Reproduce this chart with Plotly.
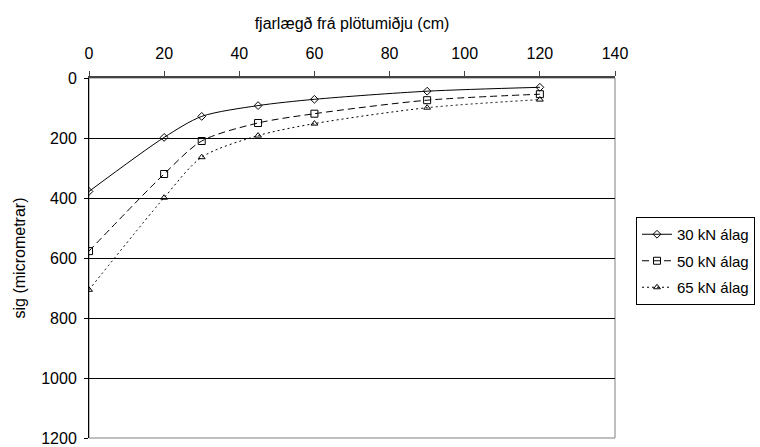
import plotly.graph_objects as go

# distance from plate centre (cm)
distance_cm = [0, 20, 30, 45, 60, 90, 120]

# deflection (micrometres) for each load level
sig_30kN = [378, 198, 128, 92, 71, 44, 31]
sig_50kN = [577, 320, 210, 150, 119, 74, 54]
sig_65kN = [706, 399, 264, 192, 152, 99, 72]

series_names = ["30 kN álag", "50 kN álag", "65 kN álag"]
x_ticks = [0, 20, 40, 60, 80, 100, 120, 140]
y_ticks = [0, 200, 400, 600, 800, 1000, 1200]

styles = [
    dict(dash="solid", symbol="diamond-open", size=6),
    dict(dash="7px,4px", symbol="square-open", size=7),
    dict(dash="2px,3px", symbol="triangle-up-open", size=6),
]

FONT = "Liberation Sans, Arial, sans-serif"

# plot area spans x = 89..615 px of a 760 px wide page; no right margin so
# the legend can sit beside it without shrinking the axes
X0, X1, W = 89, 615, 760
dom_end = (X1 - X0) / (W - X0)

fig = go.Figure()
for i, (name, ys, st) in enumerate(zip(series_names, [sig_30kN, sig_50kN, sig_65kN], styles)):
    fig.add_trace(go.Scatter(
        x=distance_cm, y=ys, name=name, mode="lines+markers", legendgroup=f"g{i}",
        line=dict(color="black", width=1, dash=st["dash"], shape="spline", smoothing=0.8),
        marker=dict(symbol=st["symbol"], size=st["size"], color="black",
                    line=dict(width=1, color="black")),
    ))

# plot-area frame (right and bottom edges)
fig.add_shape(type="rect", xref="x domain", yref="y domain", x0=0, y0=0, x1=1, y1=1,
              line=dict(color="#808080", width=1), layer="below")

fig.update_layout(
    width=W, height=447,
    margin=dict(l=X0, r=0, t=78, b=9, autoexpand=False),
    paper_bgcolor="white", plot_bgcolor="white",
    font=dict(family=FONT, size=16, color="black"),
    showlegend=True,
    legend=dict(
        x=(636 - X0) / (W - X0), y=(438 - 217) / 360, xanchor="left", yanchor="top",
        bordercolor="black", borderwidth=1, bgcolor="white",
        font=dict(family=FONT, size=15, color="black"),
        tracegroupgap=4, itemwidth=30,
    ),
    xaxis=dict(
        domain=[0, dom_end],
        side="top", range=[0, 140], tickvals=x_ticks,
        showgrid=False, zeroline=False, automargin=False,
        showline=True, linecolor="#444", linewidth=2,
        ticks="outside", ticklen=5, tickcolor="#444",
        tickfont=dict(family=FONT, size=16), ticklabelstandoff=6,
        title=dict(text="fjarlægð frá plötumiðju (cm)", standoff=11,
                   font=dict(family=FONT, size=16)),
        fixedrange=True,
    ),
    yaxis=dict(
        range=[1200, 0], tickvals=y_ticks,
        showgrid=True, gridcolor="black", gridwidth=1, zeroline=False, automargin=False,
        showline=True, linecolor="black", linewidth=1,
        ticks="outside", ticklen=4, tickcolor="black",
        tickfont=dict(family=FONT, size=16), ticklabelstandoff=4,
        title=dict(text="sig (micrometrar)", standoff=11,
                   font=dict(family=FONT, size=16)),
        fixedrange=True,
    ),
)

fig.write_html("out.html")
